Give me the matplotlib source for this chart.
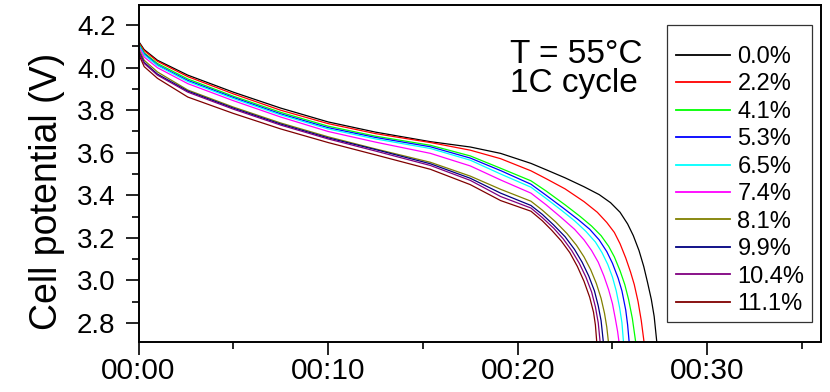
import matplotlib
matplotlib.use("Agg")
import matplotlib.pyplot as plt
from matplotlib.ticker import FixedLocator, MultipleLocator
from matplotlib.patches import Rectangle

plt.rcParams['font.family'] = ['Liberation Sans', 'DejaVu Sans']

# ---------------- data (time in minutes, cell potential in V) ----------------
labels = ["0.0%", "2.2%", "4.1%", "5.3%", "6.5%", "7.4%", "8.1%", "9.9%", "10.4%", "11.1%"]

t_plateau = [0, 0.3, 1.0, 2.6, 5.0, 7.5, 10.0, 12.5, 15.4, 17.5, 19.1, 20.7]

v_plateau = [
    [4.125, 4.085, 4.035, 3.965, 3.885, 3.810, 3.745, 3.697, 3.652, 3.627, 3.597, 3.550],
    [4.120, 4.080, 4.030, 3.958, 3.877, 3.800, 3.737, 3.690, 3.648, 3.612, 3.572, 3.515],
    [4.115, 4.070, 4.020, 3.947, 3.866, 3.790, 3.725, 3.678, 3.635, 3.585, 3.527, 3.468],
    [4.110, 4.065, 4.013, 3.940, 3.860, 3.783, 3.718, 3.672, 3.628, 3.575, 3.516, 3.452],
    [4.110, 4.060, 4.010, 3.935, 3.855, 3.778, 3.712, 3.665, 3.620, 3.565, 3.500, 3.438],
    [4.100, 4.050, 4.000, 3.925, 3.845, 3.768, 3.700, 3.650, 3.597, 3.538, 3.472, 3.410],
    [4.090, 4.035, 3.980, 3.895, 3.815, 3.740, 3.675, 3.618, 3.555, 3.490, 3.428, 3.372],
    [4.080, 4.025, 3.970, 3.890, 3.810, 3.735, 3.670, 3.615, 3.548, 3.480, 3.410, 3.352],
    [4.075, 4.020, 3.965, 3.885, 3.805, 3.730, 3.665, 3.608, 3.540, 3.470, 3.394, 3.340],
    [4.065, 4.005, 3.950, 3.862, 3.785, 3.712, 3.648, 3.590, 3.522, 3.450, 3.375, 3.325],
]

t_tail = [
    [21.5, 22.5, 23.5, 24.3, 24.9, 25.4, 25.8, 26.1, 26.4, 26.65, 26.85, 27.05, 27.2, 27.35],
    [21.5, 22.5, 23.5, 24.2, 24.7, 25.1, 25.4, 25.7, 25.95, 26.15, 26.35, 26.52, 26.68],
    [21.5, 22.5, 23.3, 23.9, 24.4, 24.8, 25.1, 25.4, 25.65, 25.85, 26.05, 26.24],
    [21.5, 22.4, 23.2, 23.8, 24.3, 24.7, 25.0, 25.3, 25.5, 25.7, 25.8, 25.89],
    [21.5, 22.3, 23.0, 23.6, 24.1, 24.45, 24.75, 25.0, 25.2, 25.38, 25.5, 25.59],
    [21.5, 22.3, 23.0, 23.5, 23.9, 24.25, 24.55, 24.8, 25.0, 25.15, 25.27, 25.36],
    [21.3, 22.0, 22.6, 23.1, 23.5, 23.85, 24.15, 24.4, 24.58, 24.7, 24.80],
    [21.3, 21.9, 22.5, 23.0, 23.4, 23.75, 24.05, 24.25, 24.4, 24.53],
    [21.3, 21.9, 22.4, 22.85, 23.25, 23.6, 23.9, 24.1, 24.25, 24.36],
    [21.3, 21.8, 22.3, 22.75, 23.15, 23.5, 23.8, 24.0, 24.1, 24.18],
]

v_tail = [
    [3.52, 3.482, 3.44, 3.403, 3.365, 3.32, 3.265, 3.21, 3.14, 3.065, 2.99, 2.91, 2.83, 2.70],
    [3.478, 3.43, 3.37, 3.32, 3.272, 3.225, 3.172, 3.105, 3.04, 2.98, 2.90, 2.81, 2.70],
    [3.42, 3.355, 3.30, 3.255, 3.21, 3.16, 3.11, 3.045, 2.98, 2.91, 2.82, 2.70],
    [3.40, 3.34, 3.285, 3.24, 3.19, 3.135, 3.08, 3.01, 2.95, 2.86, 2.79, 2.70],
    [3.385, 3.33, 3.28, 3.23, 3.18, 3.13, 3.075, 3.015, 2.95, 2.87, 2.80, 2.70],
    [3.355, 3.295, 3.24, 3.19, 3.14, 3.085, 3.02, 2.955, 2.89, 2.82, 2.76, 2.70],
    [3.33, 3.275, 3.22, 3.165, 3.11, 3.05, 2.985, 2.915, 2.845, 2.78, 2.70],
    [3.31, 3.26, 3.205, 3.145, 3.085, 3.02, 2.95, 2.88, 2.81, 2.70],
    [3.295, 3.245, 3.195, 3.14, 3.08, 3.015, 2.945, 2.875, 2.80, 2.70],
    [3.28, 3.235, 3.185, 3.13, 3.065, 2.995, 2.92, 2.85, 2.79, 2.70],
]

xtick_values = [0, 10, 20, 30]
xtick_labels = ["00:00", "00:10", "00:20", "00:30"]
ytick_values = [2.8, 3.0, 3.2, 3.4, 3.6, 3.8, 4.0, 4.2]
ytick_labels = ["2.8", "3.0", "3.2", "3.4", "3.6", "3.8", "4.0", "4.2"]

# ---------------- style ----------------
colors = ["#000000", "#ff0000", "#00ff00", "#0000ff", "#00ffff",
          "#ff00ff", "#808000", "#000080", "#800080", "#800000"]

W, H = 830, 392
fig = plt.figure(figsize=(W / 100, H / 100), dpi=100)
ax = fig.add_axes([138.5 / W, 1 - 341.5 / H, (821 - 138.5) / W, (341.5 - 5) / H])

for i in range(len(labels)):
    ax.plot(t_plateau + t_tail[i], v_plateau[i] + v_tail[i],
            color=colors[i], lw=0.9, label=labels[i])

ax.set_xlim(0, 36)
ax.set_ylim(2.712, 4.295)

ax.xaxis.set_major_locator(FixedLocator(xtick_values))
ax.set_xticklabels(xtick_labels)
ax.xaxis.set_minor_locator(MultipleLocator(5))
ax.yaxis.set_major_locator(FixedLocator(ytick_values))
ax.set_yticklabels(ytick_labels)
ax.yaxis.set_minor_locator(MultipleLocator(0.1))

ax.tick_params(which='major', direction='out', length=9.5, width=1.2,
               top=False, right=False)
ax.tick_params(which='minor', direction='out', length=5, width=1.2,
               top=False, right=False)
ax.tick_params(axis='y', which='major', labelsize=20, pad=7)
ax.tick_params(axis='x', which='major', labelsize=21.5, pad=2)
for s in ax.spines.values():
    s.set_linewidth(1.4)

ax.set_ylabel("Cell potential (V)", fontsize=27)
ax.yaxis.set_label_coords(-0.108, 0.446)

ax.text(0.544, 0.828, "T = 55°C", transform=ax.transAxes, fontsize=24,
        ha='left', va='baseline')
ax.text(0.544, 0.742, "1C cycle", transform=ax.transAxes, fontsize=24,
        ha='left', va='baseline')

# legend frame (drawn separately) and entries
fig.patches.append(Rectangle((667 / W, 1 - 322 / H), (812 - 667) / W, (322 - 25) / H,
                             transform=fig.transFigure, fill=False,
                             edgecolor='#333333', linewidth=0.9, zorder=5))
leg = ax.legend(loc='center left', bbox_to_anchor=(676 / W, 1 - 180.5 / H),
                bbox_transform=fig.transFigure, borderaxespad=0, borderpad=0,
                fontsize=17, frameon=False,
                handlelength=2.3, handletextpad=0.3, labelspacing=0.23)
for h in leg.get_lines():
    h.set_linewidth(1.3)

fig.savefig("out.png", dpi=100)
